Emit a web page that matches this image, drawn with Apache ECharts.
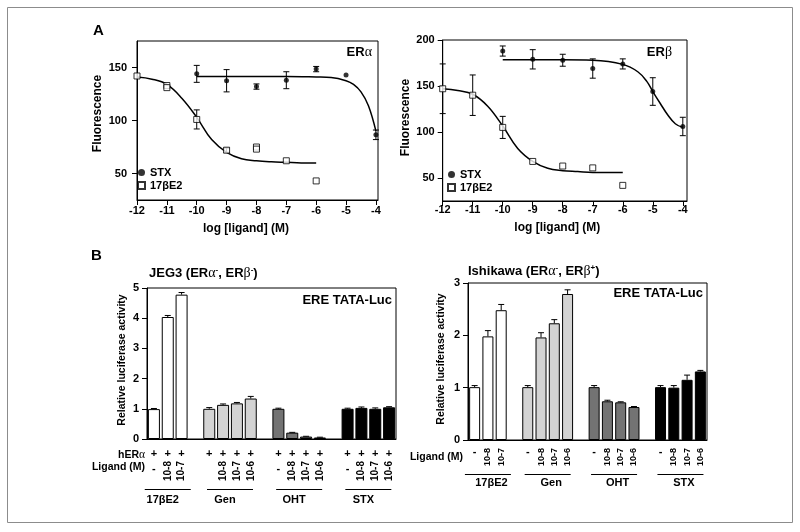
<!DOCTYPE html>
<html>
<head>
<meta charset="utf-8">
<script src="https://cdn.jsdelivr.net/npm/echarts@6/dist/echarts.min.js"></script>
<style>
html, body { margin: 0; padding: 0; background: #fff; }
#main { width: 800px; height: 532px; }
</style>
</head>
<body>
<div id="main"></div>
<script>
// ---- A: binding curves, log [ligand] vs fluorescence
const doseTicks = [-12, -11, -10, -9, -8, -7, -6, -5, -4];
const alphaTicks = [50, 100, 150];
const betaTicks = [50, 100, 150, 200];

const e2AlphaDose = [-12, -11, -11, -10, -9, -8, -8, -7, -6];
const e2AlphaFluor = [142, 133, 131, 101, 72, 75, 73, 62, 43];
const e2AlphaErr = [0, 0, 0, 9, 2, 0, 0, 0, 0];
const stxAlphaDose = [-10, -9, -8, -7, -6, -5, -4];
const stxAlphaFluor = [144, 137.5, 132, 138, 148.5, 143, 86.5];
const stxAlphaErr = [8, 10.5, 2.5, 8, 2.5, 0, 4.5];
const e2AlphaFitDose = [-12, -11.5, -11, -10.5, -10, -9.5, -9, -8.5, -8, -7.5, -7, -6.5, -6];
const e2AlphaFit = [141, 139, 134, 121, 103, 82, 70, 64, 62, 61, 60.5, 60, 60];
const stxAlphaFitDose = [-10, -9, -8, -7, -6, -5.5, -5, -4.75, -4.5, -4.25, -4];
const stxAlphaFit = [141.5, 141.5, 141.5, 141.5, 141, 140.5, 137.5, 134, 127, 114, 90];

const e2BetaDose = [-12, -11, -10, -9, -8, -7, -6];
const e2BetaFluor = [147, 140, 105, 68, 63, 61, 42];
const e2BetaErr = [27, 22, 12, 0, 0, 0, 0];
const stxBetaDose = [-10, -9, -8, -7, -6, -5, -4];
const stxBetaFluor = [188, 179, 178, 169, 174, 144, 106];
const stxBetaErr = [5.5, 10.5, 6.5, 10.5, 5.5, 15, 10];
const e2BetaFitDose = [-12, -11.5, -11, -10.5, -10, -9.5, -9, -8.5, -8, -7.5, -7, -6.5, -6];
const e2BetaFit = [147, 145, 141, 128, 106.5, 82, 68, 60.5, 58, 57, 56, 56, 56];
const stxBetaFitDose = [-10, -9, -8, -7, -6, -5.5, -5.2, -5, -4.75, -4.5, -4.25, -4];
const stxBetaFit = [178.5, 178.5, 178.5, 178, 173.5, 165.5, 155, 144, 131, 118.5, 109, 105];

// ---- B: luciferase reporter, per ligand group
const bGroups = ['17βE2', 'Gen', 'OHT', 'STX'];
const jegMean = [[0.99, 4.04, 4.78], [1.0, 1.13, 1.18, 1.34], [1.0, 0.21, 0.08, 0.05], [1.0, 1.03, 1.0, 1.05]];
const jegErr = [[0.02, 0.05, 0.07], [0.04, 0.03, 0.03, 0.07], [0.02, 0.01, 0.01, 0.01], [0.02, 0.03, 0.03, 0.02]];
const jegLigand = [['-', '10-8', '10-7'], ['', '10-8', '10-7', '10-6'], ['-', '10-8', '10-7', '10-6'], ['-', '10-8', '10-7', '10-6']];
const ishMean = [[1.01, 1.98, 2.48], [1.01, 1.96, 2.23, 2.79], [1.01, 0.74, 0.72, 0.63], [1.01, 1.0, 1.15, 1.31]];
const ishErr = [[0.03, 0.11, 0.11], [0.03, 0.09, 0.07, 0.08], [0.03, 0.02, 0.01, 0.01], [0.03, 0.04, 0.09, 0.02]];
const ishLigand = [['-', '10-8', '10-7'], ['-', '10-8', '10-7', '10-6'], ['-', '10-8', '10-7', '10-6'], ['-', '10-8', '10-7', '10-6']];

const FONT = "'Liberation Sans', Arial, Helvetica, sans-serif";
const GREEK = "'Liberation Serif', 'DejaVu Serif', serif";
const ink = '#000';
const groupFill = ['#ffffff', '#d3d3d3', '#737373', '#000000'];
const tickFont = { fontFamily: FONT, fontWeight: 'bold', fontSize: 11, color: ink };

function pairs(xs, ys) { return xs.map((x, i) => [x, ys[i]]); }
function triples(xs, ys, es) { return xs.map((x, i) => [x, ys[i], es[i]]); }

// lay groups out on a category axis with one empty slot between groups
function buildBars(means, errs, ligands) {
    const slots = [];
    const centers = [];
    means.forEach((grp, g) => {
        if (g) slots.push(null);
        const start = slots.length;
        grp.forEach((m, k) => slots.push({ g: g, m: m, e: errs[g][k], lig: ligands[g][k] }));
        centers.push(start + (grp.length - 1) / 2);
    });
    return { slots, centers };
}

function line(x1, y1, x2, y2) {
    return { type: 'line', shape: { x1, y1, x2, y2 }, style: { stroke: ink, lineWidth: 1 } };
}

function renderErr(params, api) {
    const x = api.value(0), y = api.value(1), e = api.value(2);
    if (!e) return null;
    const hi = api.coord([x, y + e]);
    const lo = api.coord([x, y - e]);
    return { type: 'group', children: [
        line(hi[0], hi[1], lo[0], lo[1]),
        line(hi[0] - 3, hi[1], hi[0] + 3, hi[1]),
        line(lo[0] - 3, lo[1], lo[0] + 3, lo[1])
    ] };
}

function renderBarErr(params, api) {
    const i = api.value(0), m = api.value(1), e = api.value(2);
    const top = api.coord([i, m + e]);
    const base = api.coord([i, m]);
    return { type: 'group', children: [
        line(top[0], top[1], base[0], base[1]),
        line(top[0] - 3, top[1], top[0] + 3, top[1])
    ] };
}

function doseAxis(gridIndex, max, margin, nameGap, namePad) {
    return {
        type: 'value', gridIndex, min: -12, max,
        name: 'log [ligand] (M)', nameLocation: 'middle', nameGap,
        nameTextStyle: { fontFamily: FONT, fontWeight: 'bold', fontSize: 12, color: ink, padding: [0, namePad, 0, 0] },
        axisLine: { show: true, onZero: false, lineStyle: { color: ink } },
        axisTick: { show: true, length: 5, customValues: doseTicks, lineStyle: { color: ink } },
        axisLabel: Object.assign({ customValues: doseTicks, margin }, tickFont),
        splitLine: { show: false }
    };
}

function fluorAxis(gridIndex, max, ticks, margin, nameGap, namePad) {
    return {
        type: 'value', gridIndex, min: 25, max,
        name: 'Fluorescence', nameLocation: 'middle', nameGap,
        nameTextStyle: { fontFamily: FONT, fontWeight: 'bold', fontSize: 12, color: ink, padding: [0, 0, 0, namePad] },
        axisLine: { show: true, onZero: false, lineStyle: { color: ink } },
        axisTick: { show: true, length: 5, customValues: ticks, lineStyle: { color: ink } },
        axisLabel: Object.assign({ customValues: ticks, margin }, tickFont),
        splitLine: { show: false }
    };
}

function lucAxis(gridIndex, max, nameGap, namePad) {
    return {
        type: 'value', gridIndex, min: 0, max, interval: 1,
        name: 'Relative luciferase activity', nameLocation: 'middle', nameGap,
        nameTextStyle: { fontFamily: FONT, fontWeight: 'bold', fontSize: 10.5, color: ink, padding: [0, 0, 0, namePad] },
        axisLine: { show: true, onZero: false, lineStyle: { color: ink } },
        axisTick: { show: true, length: 5, lineStyle: { color: ink } },
        axisLabel: Object.assign({ margin: 8 }, tickFont),
        splitLine: { show: false }
    };
}

function catAxis(gridIndex, data, label) {
    return {
        type: 'category', gridIndex, data, position: 'bottom',
        axisLine: { show: false, onZero: false },
        axisTick: { show: false },
        axisLabel: Object.assign({ interval: 0 }, tickFont, label)
    };
}

function groupAxis(gridIndex, panel, margin, nameLine, namePad) {
    return {
        type: 'value', gridIndex, min: -0.5, max: panel.slots.length - 0.5, position: 'bottom',
        axisLine: { show: false, onZero: false },
        axisTick: { show: false },
        splitLine: { show: false },
        axisLabel: {
            customValues: panel.centers, margin,
            formatter: v => '{ln|}\n{nm|' + bGroups[panel.centers.indexOf(v)] + '}',
            rich: {
                ln: { width: 46, height: 1, lineHeight: 1, backgroundColor: ink },
                nm: { fontFamily: FONT, fontWeight: 'bold', fontSize: 11, color: ink, lineHeight: nameLine, padding: namePad }
            }
        }
    };
}

function barSeries(axisIndex, yIndex, panel, barWidth) {
    return [{
        type: 'bar', xAxisIndex: axisIndex, yAxisIndex: yIndex,
        barWidth, silent: true,
        itemStyle: { borderColor: ink, borderWidth: 1 },
        data: panel.slots.map(s => s ? { value: s.m, itemStyle: { color: groupFill[s.g] } } : '-')
    }, {
        type: 'custom', xAxisIndex: axisIndex, yAxisIndex: yIndex, z: 3, silent: true,
        renderItem: renderBarErr, encode: { x: 0, y: 1 },
        data: panel.slots.map((s, i) => s ? [i, s.m, s.e] : null).filter(Boolean)
    }];
}

function curvePanel(idx, e2Fit, stxFit, e2Pts, stxPts) {
    return [
        { type: 'line', xAxisIndex: idx, yAxisIndex: idx, data: e2Fit, smooth: 0.4,
          symbol: 'none', silent: true, z: 2, lineStyle: { color: ink, width: 1.5 } },
        { type: 'line', xAxisIndex: idx, yAxisIndex: idx, data: stxFit, smooth: 0.4,
          symbol: 'none', silent: true, z: 2, lineStyle: { color: ink, width: 1.5 } },
        { type: 'custom', xAxisIndex: idx, yAxisIndex: idx, renderItem: renderErr, encode: { x: 0, y: 1 },
          data: stxPts.concat(e2Pts), z: 3, silent: true },
        { type: 'scatter', name: 'STX', xAxisIndex: idx, yAxisIndex: idx, data: stxPts.map(p => [p[0], p[1]]),
          symbol: 'circle', symbolSize: 5, itemStyle: { color: ink }, z: 4 },
        { type: 'scatter', name: '17βE2', xAxisIndex: idx, yAxisIndex: idx, data: e2Pts.map(p => [p[0], p[1]]),
          symbol: 'rect', symbolSize: 6, itemStyle: { color: '#fff', borderColor: ink, borderWidth: 1 }, z: 5 }
    ];
}

const jeg = buildBars(jegMean, jegErr, jegLigand);
const ish = buildBars(ishMean, ishErr, ishLigand);

function text(x, y, str, size, align, extra) {
    return {
        type: 'text', x, y, z: 10, silent: true,
        style: Object.assign({
            text: str, fill: ink, align: align, verticalAlign: 'middle',
            font: 'bold ' + size + 'px ' + FONT,
            rich: {
                g: { fontFamily: GREEK, fontSize: size + 1, fontWeight: 'normal', fill: ink },
                sup: { fontFamily: FONT, fontSize: 8, fontWeight: 'bold', fill: ink, verticalAlign: 'top' }
            }
        }, extra || {})
    };
}

const gridBox = { show: true, borderColor: ink, borderWidth: 1, backgroundColor: 'transparent', containLabel: false, outerBoundsMode: 'none' };
const legendStyle = {
    orient: 'vertical', itemWidth: 7, itemHeight: 7, itemGap: 2, padding: 0, selectedMode: false,
    data: ['STX', '17βE2'],
    textStyle: { fontFamily: FONT, fontWeight: 'bold', fontSize: 11, color: ink, lineHeight: 10 }
};

const Mychart = echarts.init(document.getElementById('main'));
Mychart.setOption({
    animation: false,
    backgroundColor: '#fff',
    grid: [
        Object.assign({ left: 137, top: 41, width: 241, height: 159 }, gridBox),
        Object.assign({ left: 442.7, top: 40, width: 244.3, height: 161 }, gridBox),
        Object.assign({ left: 147, top: 288, width: 249, height: 151 }, gridBox),
        Object.assign({ left: 468, top: 283, width: 239, height: 157 }, gridBox)
    ],
    legend: [
        Object.assign({ left: 137, top: 167 }, legendStyle),
        Object.assign({ left: 447, top: 169 }, legendStyle)
    ],
    xAxis: [
        doseAxis(0, -3.93, 5, 23, 23),
        doseAxis(1, -3.86, 3, 21, 15),
        // B left: hERα row, ligand rows, group names
        Object.assign(catAxis(2, jeg.slots.map(s => s ? '+' : ''), { margin: 9 }), { axisLine: { show: true, onZero: false, lineStyle: { color: ink } } }),
        catAxis(2, jeg.slots.map(s => s && s.lig !== '-' ? s.lig : ''), { rotate: 90, margin: 22, fontSize: 10 }),
        catAxis(2, jeg.slots.map(s => s && s.lig === '-' ? '-' : ''), { margin: 24 }),
        groupAxis(2, jeg, 50, 19, [0, 10, 0, 0]),
        // B right
        Object.assign(catAxis(3, ish.slots.map(s => s && s.lig !== '-' ? s.lig : ''), { rotate: 90, margin: 8, fontSize: 9 }), { axisLine: { show: true, onZero: false, lineStyle: { color: ink } } }),
        catAxis(3, ish.slots.map(s => s && s.lig === '-' ? '-' : ''), { margin: 6 }),
        groupAxis(3, ish, 34, 15, [0, 0, 0, 7])
    ],
    yAxis: [
        fluorAxis(0, 175, alphaTicks, 10, 33, 14),
        fluorAxis(1, 200, betaTicks, 8, 31, 6),
        lucAxis(2, 5, 19, 7),
        lucAxis(3, 3, 21, 5)
    ],
    series: [].concat(
        curvePanel(0, pairs(e2AlphaFitDose, e2AlphaFit), pairs(stxAlphaFitDose, stxAlphaFit),
            triples(e2AlphaDose, e2AlphaFluor, e2AlphaErr), triples(stxAlphaDose, stxAlphaFluor, stxAlphaErr)),
        curvePanel(1, pairs(e2BetaFitDose, e2BetaFit), pairs(stxBetaFitDose, stxBetaFit),
            triples(e2BetaDose, e2BetaFluor, e2BetaErr), triples(stxBetaDose, stxBetaFluor, stxBetaErr)),
        barSeries(2, 2, jeg, 12),
        barSeries(6, 3, ish, 11)
    ),
    graphic: [
        { type: 'rect', silent: true, shape: { x: 7.5, y: 7.5, width: 785, height: 515 },
          style: { fill: 'none', stroke: '#8c8c8c', lineWidth: 1 } },
        text(93, 31, 'A', 15, 'left'),
        text(91, 256, 'B', 15, 'left'),
        text(372, 52.5, 'ER{g|α}', 13, 'right'),
        text(672, 52.5, 'ER{g|β}', 13, 'right'),
        text(149, 273, 'JEG3 (ER{g|α}{sup|-}, ER{g|β}{sup|-})', 13, 'left'),
        text(468, 271, 'Ishikawa (ER{g|α}{sup|-}, ER{g|β}{sup|+})', 13, 'left'),
        text(392, 300.5, 'ERE TATA-Luc', 13, 'right'),
        text(703, 293.5, 'ERE TATA-Luc', 13, 'right'),
        text(145, 455, 'hER{g|α}', 10.5, 'right'),
        text(145, 467, 'Ligand (M)', 10.5, 'right'),
        text(463, 457, 'Ligand (M)', 10.5, 'right')
    ]
});
</script>
</body>
</html>
